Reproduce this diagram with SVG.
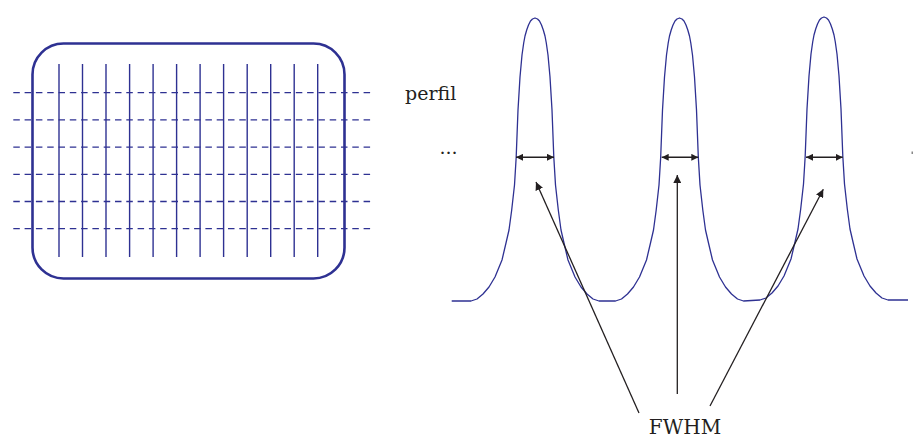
<svg xmlns="http://www.w3.org/2000/svg" width="913" height="439" viewBox="0 0 913 439">
<style>
.blue{stroke:#2e3192;fill:none}
.grid{stroke:#2e3192;stroke-width:1.4}
.dash{stroke:#2e3192;stroke-width:1.3;stroke-dasharray:6.5 4.8}
.arr{stroke:#231f20;stroke-width:1.5;fill:none}
.ptr{stroke:#231f20;stroke-width:1.3;fill:none}
.lbl{font-family:"DejaVu Serif","Liberation Serif",serif;fill:#231f20}
</style>
<defs>
<marker id="ah" viewBox="0 0 10 10" refX="10" refY="5" markerWidth="7" markerHeight="7" markerUnits="userSpaceOnUse" orient="auto-start-reverse">
<path d="M0,0 L10,5 L0,10 z" fill="#231f20"/>
</marker>
<marker id="ph" viewBox="0 0 10 10" refX="10" refY="5" markerWidth="8" markerHeight="8" markerUnits="userSpaceOnUse" orient="auto">
<path d="M0,0 L10,5 L0,10 z" fill="#231f20"/>
</marker>
</defs>

<g id="sensor">
<rect class="blue" x="32.5" y="43.5" width="312" height="235" rx="31" ry="31" stroke-width="2.6"/>
<g class="grid">
<line x1="59" y1="64" x2="59" y2="257"/>
<line x1="82.5" y1="64" x2="82.5" y2="257"/>
<line x1="106" y1="64" x2="106" y2="257"/>
<line x1="129.6" y1="64" x2="129.6" y2="257"/>
<line x1="153.1" y1="64" x2="153.1" y2="257"/>
<line x1="176.6" y1="64" x2="176.6" y2="257"/>
<line x1="200.1" y1="64" x2="200.1" y2="257"/>
<line x1="223.6" y1="64" x2="223.6" y2="257"/>
<line x1="247.2" y1="64" x2="247.2" y2="257"/>
<line x1="270.7" y1="64" x2="270.7" y2="257"/>
<line x1="294.2" y1="64" x2="294.2" y2="257"/>
<line x1="317.7" y1="64" x2="317.7" y2="257"/>
</g>
<g class="dash">
<line x1="13.3" y1="92.7" x2="371" y2="92.7"/>
<line x1="13.3" y1="119.9" x2="371" y2="119.9"/>
<line x1="13.3" y1="147.1" x2="371" y2="147.1"/>
<line x1="13.3" y1="174.3" x2="371" y2="174.3"/>
<line x1="13.3" y1="201.5" x2="371" y2="201.5"/>
<line x1="13.3" y1="228.7" x2="371" y2="228.7"/>
</g>
</g>

<g id="profile">
<path class="blue" stroke-width="1.3" stroke-linejoin="round" d="M451.7 301 H471 l6 -2 l6 -5 l6 -7 l6 -10 l7 -17 l4 -17 l3 -13 l2.7 -20 l2.8 -25 l1.7 -28 l1.8 -47 l2 -33 l2 -22 l1.7 -12 l1.3 -7 l1.7 -6 l1.8 -5 l2 -4 l2 -2 l2.5 -1 l2.5 1 l2 2 l2 4 l1.8 5 l1.7 6 l1.3 7 l1.7 12 l2 22 l2 33 l1.8 47 l1.7 28 l2.8 25 l2.7 20 l3 13 l4 17 l7 17 l6 10 l6 7 l6 5 l6 2 H615.5 l6 -2 l6 -5 l6 -7 l6 -10 l7 -17 l4 -17 l3 -13 l2.7 -20 l2.8 -25 l1.7 -28 l1.8 -47 l2 -33 l2 -22 l1.7 -12 l1.3 -7 l1.7 -6 l1.8 -5 l2 -4 l2 -2 l2.5 -1 l2.5 1 l2 2 l2 4 l1.8 5 l1.7 6 l1.3 7 l1.7 12 l2 22 l2 33 l1.8 47 l1.7 28 l2.8 25 l2.7 20 l3 13 l4 17 l7 17 l6 10 l6 7 l6 5 l6 2 L760 300 l6 -2 l6 -5 l6 -7 l6 -10 l7 -17 l4 -17 l3 -13 l2.7 -20 l2.8 -25 l1.7 -28 l1.8 -47 l2 -33 l2 -22 l1.7 -12 l1.3 -7 l1.7 -6 l1.8 -5 l2 -4 l2 -2 l2.5 -1 l2.5 1 l2 2 l2 4 l1.8 5 l1.7 6 l1.3 7 l1.7 12 l2 22 l2 33 l1.8 47 l1.7 28 l2.8 25 l2.7 20 l3 13 l4 17 l7 17 l6 10 l6 7 l6 5 l6 2 H908"/>
</g>

<g id="labels">
<text id="perfil" class="lbl" x="405" y="100" font-size="19">perfil</text>
<text id="dots" class="lbl" x="439.5" y="153.5" font-size="19">...</text>
<rect x="911.5" y="151.5" width="1.5" height="2.5" fill="#888"/>
<text id="fwhm" class="lbl" x="685" y="434" font-size="20" text-anchor="middle">FWHM</text>
</g>

<g id="connectors">
<line class="arr" x1="516" y1="157.3" x2="554" y2="157.3" marker-start="url(#ah)" marker-end="url(#ah)"/>
<line class="arr" x1="661.7" y1="157.3" x2="698.3" y2="157.3" marker-start="url(#ah)" marker-end="url(#ah)"/>
<line class="arr" x1="806" y1="157.3" x2="842.7" y2="157.3" marker-start="url(#ah)" marker-end="url(#ah)"/>
<line class="ptr" x1="639" y1="413" x2="536" y2="182" marker-end="url(#ph)"/>
<line class="ptr" x1="677.3" y1="394" x2="677.3" y2="175" marker-end="url(#ph)"/>
<line class="ptr" x1="710" y1="406" x2="823.3" y2="189.3" marker-end="url(#ph)"/>
</g>
</svg>
